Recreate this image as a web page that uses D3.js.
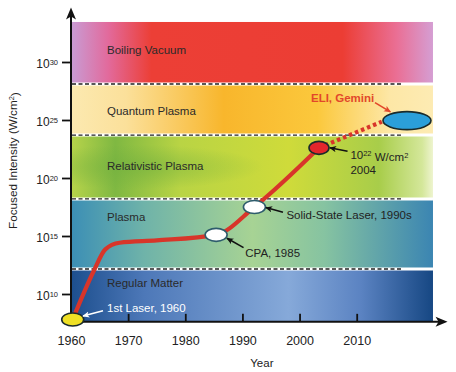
<!DOCTYPE html>
<html><head><meta charset="utf-8">
<script src="https://cdn.jsdelivr.net/npm/d3@7"></script>
<style>
html,body{margin:0;padding:0;background:#fff;}
svg{display:block;font-family:"Liberation Sans",Arial,sans-serif;}
</style></head>
<body>
<svg id="chart" width="456" height="372"></svg>
<script>
// ---- data ----
const xTicks = [1960, 1970, 1980, 1990, 2000, 2010];
const yTicks = [10, 15, 20, 25, 30];           // log10 of W/cm^2
const bandNames = ["Boiling Vacuum", "Quantum Plasma", "Relativistic Plasma", "Plasma", "Regular Matter"];
const bandLo = [28.1, 23.7, 18.2, 12.15, 7.6];
const bandHi = [33.45, 28.1, 23.7, 18.2, 12.15];
const bandLabelVals = [31.0, 25.8, 21.05, 16.65, 10.92];
const bandStops = [
  [["0%","#c99bd3"],["10%","#e26a9c"],["22%","#ec3f36"],["75%","#ec3d34"],["90%","#ea6f95"],["100%","#d59ed3"]],
  [["0%","#fce9b0"],["15%","#fbe09a"],["42%","#f8b62c"],["68%","#fbc83c"],["88%","#fde7a6"],["100%","#fdebb3"]],
  [["0%","#b6d34a"],["12%","#7fb842"],["30%","#b9d444"],["60%","#cfdb3a"],["85%","#a8cd4a"],["97%","#d4e79a"],["100%","#eef4cf"]],
  [["0%","#3c8fb5"],["20%","#6fb3a9"],["50%","#a7d394"],["70%","#86c3a1"],["100%","#3b85b2"]],
  [["0%","#1d4f8e"],["20%","#4d78b8"],["60%","#86a9d9"],["80%","#5b83c2"],["100%","#164783"]]
];
const bandEndYear = 2023.35;
const dashEndYear = 2017.9;
const curveYears = [1960.3, 1964, 1966, 1968.5, 1975, 1985.4, 1992.1, 2003.4];
const curveVals  = [7.8, 12.0, 13.85, 14.42, 14.62, 15.1, 17.5, 22.6];
const projYears = [2003.4, 2014.4];
const projVals  = [22.6, 24.85];
const markerNames = ["1st Laser, 1960", "CPA, 1985", "Solid-State Laser, 1990s", "10²² W/cm² 2004", "ELI, Gemini"];
const markerYears = [1960.3, 1985.4, 1992.1, 2003.4, 2018.8];
const markerVals  = [7.8, 15.1, 17.5, 22.6, 24.95];
const markerFill = ["#efe025", "#ffffff", "#ffffff", "#e3262c", "#2b9fd9"];

// ---- scales ----
const svg = d3.select("#chart");
const x = d3.scaleLinear().domain([1960, 2010]).range([71, 356.7]);
const y = d3.scaleLinear().domain([10, 30]).range([294, 62]);

const defs = svg.append("defs");
bandStops.forEach((stops, i) => {
  const g = defs.append("linearGradient").attr("id", "bg" + i).attr("x1", "0%").attr("x2", "100%");
  stops.forEach(s => g.append("stop").attr("offset", s[0]).attr("stop-color", s[1]));
});
const rg = defs.append("radialGradient").attr("id", "relGlow").attr("cx", "0.18").attr("cy", "0.5").attr("r", "0.35");
rg.append("stop").attr("offset", "0%").attr("stop-color", "#6fae3e").attr("stop-opacity", 0.55);
rg.append("stop").attr("offset", "100%").attr("stop-color", "#6fae3e").attr("stop-opacity", 0);

function arrowMarker(id, color) {
  defs.append("marker").attr("id", id).attr("viewBox", "0 0 10 10").attr("refX", 9).attr("refY", 5)
    .attr("markerWidth", 7).attr("markerHeight", 7).attr("orient", "auto")
    .attr("markerUnits", "userSpaceOnUse")
    .append("path").attr("d", "M0,0.5 L10,5 L0,9.5 L2.5,5 Z").attr("fill", color);
}
arrowMarker("arB", "#111");
arrowMarker("arW", "#fff");
arrowMarker("arR", "#e2472a");

// ---- bands ----
const bands = bandNames.map((n, i) => ({ name: n, lo: bandLo[i], hi: bandHi[i], lv: bandLabelVals[i], i }));
svg.selectAll("rect.band").data(bands).join("rect")
  .attr("class", "band")
  .attr("x", x(1960) + 1)
  .attr("width", x(bandEndYear) - x(1960) - 1)
  .attr("y", d => y(d.hi))
  .attr("height", d => y(d.lo) - y(d.hi))
  .attr("fill", d => `url(#bg${d.i})`);
svg.append("rect")
  .attr("x", x(1960) + 1).attr("width", x(bandEndYear) - x(1960) - 1)
  .attr("y", y(23.7)).attr("height", y(18.2) - y(23.7))
  .attr("fill", "url(#relGlow)");

const seps = bandLo.slice(0, 4);
svg.selectAll("line.sepw").data(seps).join("line")
  .attr("x1", x(1960) + 1).attr("x2", x(bandEndYear))
  .attr("y1", d => y(d)).attr("y2", d => y(d))
  .attr("stroke", "#fff").attr("stroke-width", 3);
svg.selectAll("line.sepd").data(seps).join("line")
  .attr("x1", x(1960) + 1).attr("x2", x(dashEndYear))
  .attr("y1", d => y(d)).attr("y2", d => y(d))
  .attr("stroke", "#222").attr("stroke-width", 1.4).attr("stroke-dasharray", "4,2.5");

svg.selectAll("text.bl").data(bands).join("text")
  .attr("x", x(1966.3))
  .attr("y", d => y(d.lv))
  .attr("dy", "0.35em")
  .attr("font-size", 11.5).attr("fill", "#2a2a2a")
  .text(d => d.name);

// ---- axes ----
const xAxis = d3.axisBottom(x).tickValues(xTicks).tickSize(8).tickSizeOuter(0).tickFormat(d3.format("d"));
const gx = svg.append("g").attr("transform", `translate(0,${y(7.6)})`).call(xAxis);
gx.select(".domain").remove();
gx.selectAll(".tick line").attr("y2", -8).attr("stroke", "#111").attr("stroke-width", 1.8);
gx.selectAll(".tick text").attr("y", 14).attr("dy", "0.71em").attr("font-size", 12.5).attr("fill", "#222")
  .attr("font-family", "Liberation Sans, Arial, sans-serif");
svg.append("line").attr("x1", x(1960)).attr("x2", x(2025.2)).attr("y1", y(7.6)).attr("y2", y(7.6))
  .attr("stroke", "#111").attr("stroke-width", 2);
svg.append("path")
  .attr("d", `M${x(2025.9)},${y(7.6)} l-12,-5 l3,5 l-3,5 z`).attr("fill", "#111");

const yAxis = d3.axisLeft(y).tickValues(yTicks).tickSize(9).tickSizeOuter(0).tickFormat("");
const gy = svg.append("g").attr("transform", `translate(${x(1960)},0)`).call(yAxis);
gy.select(".domain").remove();
gy.selectAll(".tick line").attr("stroke", "#111").attr("stroke-width", 1.8);
gy.selectAll(".tick").append("text")
  .attr("x", -13).attr("dy", "0.45em").attr("text-anchor", "end")
  .attr("font-size", 12).attr("fill", "#222")
  .each(function (d) {
    const t = d3.select(this);
    t.append("tspan").text("10");
    t.append("tspan").attr("dy", "-0.45em").attr("font-size", 7.5).text(String(d));
  });
svg.append("line").attr("x1", x(1960)).attr("x2", x(1960)).attr("y1", y(7.6)).attr("y2", y(34.2))
  .attr("stroke", "#111").attr("stroke-width", 2);
svg.append("path")
  .attr("d", `M${x(1960)},${y(34.7)} l-5,12 l5,-3 l5,3 z`).attr("fill", "#111");

svg.append("text").attr("x", x(1993.4)).attr("y", 363).attr("dy", "0.35em")
  .attr("text-anchor", "middle").attr("font-size", 11.5).attr("fill", "#222").text("Year");
const yt = svg.append("text").attr("transform", `translate(13,${y(21.5)}) rotate(-90)`)
  .attr("text-anchor", "middle").attr("dy", "0.35em").attr("font-size", 11.7).attr("fill", "#222");
yt.append("tspan").text("Focused Intensity (W/cm");
yt.append("tspan").attr("dy", "-0.4em").attr("font-size", 7.5).text("2");
yt.append("tspan").attr("dy", "0.4em").text(")");

// ---- curve ----
const pts = curveYears.map((yr, i) => [yr, curveVals[i]]);
const line = d3.line().x(d => x(d[0])).y(d => y(d[1])).curve(d3.curveMonotoneX);
svg.append("path").attr("d", line(pts)).attr("fill", "none")
  .attr("stroke", "#d8352a").attr("stroke-width", 4.2).attr("stroke-linejoin", "round");
const proj = projYears.map((yr, i) => [yr, projVals[i]]);
svg.append("path").attr("d", d3.line().x(d => x(d[0])).y(d => y(d[1]))(proj)).attr("fill", "none")
  .attr("stroke", "#d8352a").attr("stroke-width", 4.2).attr("stroke-dasharray", "3.5,3");

// ---- markers ----
const marks = markerNames.map((n, i) => ({ name: n, yr: markerYears[i], v: markerVals[i], fill: markerFill[i], i }));
svg.selectAll("ellipse.mk").data(marks).join("ellipse")
  .attr("cx", d => x(d.yr)).attr("cy", d => y(d.v))
  .attr("rx", d => d.i === 4 ? 24 : d.i === 3 ? 10 : 11)
  .attr("ry", d => d.i === 4 ? 9 : 6.5)
  .attr("fill", d => d.fill)
  .attr("stroke", d => d.i === 1 || d.i === 2 ? "#2e5c6c" : "#1b2b2b")
  .attr("stroke-width", 1.6);

// ---- annotations ----
svg.append("text").attr("x", x(1966.3)).attr("y", y(8.8)).attr("dy", "0.35em")
  .attr("font-size", 11.5).attr("fill", "#fff").text(markerNames[0]);
svg.append("line").attr("x1", x(1965.6)).attr("y1", y(8.55)).attr("x2", x(1962.1)).attr("y2", y(8.1))
  .attr("stroke", "#fff").attr("stroke-width", 1.6).attr("marker-end", "url(#arW)");

svg.append("text").attr("x", x(1990.5)).attr("y", y(13.55)).attr("dy", "0.35em")
  .attr("font-size", 11.5).attr("fill", "#222").text(markerNames[1]);
svg.append("line").attr("x1", x(1990.2)).attr("y1", y(14.0)).attr("x2", x(1987.3)).attr("y2", y(14.8))
  .attr("stroke", "#111").attr("stroke-width", 1.6).attr("marker-end", "url(#arB)");

svg.append("text").attr("x", x(1997.7)).attr("y", y(16.85)).attr("dy", "0.35em")
  .attr("font-size", 11.5).attr("fill", "#222").text(markerNames[2]);
svg.append("line").attr("x1", x(1997.1)).attr("y1", y(17.05)).attr("x2", x(1994.1)).attr("y2", y(17.45))
  .attr("stroke", "#111").attr("stroke-width", 1.6).attr("marker-end", "url(#arB)");

const t22 = svg.append("text").attr("x", x(2008.9)).attr("y", y(21.95)).attr("dy", "0.35em")
  .attr("font-size", 11.5).attr("fill", "#222");
t22.append("tspan").text("10");
t22.append("tspan").attr("dy", "-0.45em").attr("font-size", 7.5).text("22");
t22.append("tspan").attr("dy", "0.45em").text(" W/cm");
t22.append("tspan").attr("dy", "-0.45em").attr("font-size", 7.5).text("2");
svg.append("text").attr("x", x(2008.9)).attr("y", y(20.7)).attr("dy", "0.35em")
  .attr("font-size", 11.5).attr("fill", "#222").text("2004");
svg.append("line").attr("x1", x(2008.4)).attr("y1", y(22.3)).attr("x2", x(2005.3)).attr("y2", y(22.6))
  .attr("stroke", "#111").attr("stroke-width", 1.6).attr("marker-end", "url(#arB)");

svg.append("text").attr("x", x(2002.0)).attr("y", y(26.87)).attr("dy", "0.35em")
  .attr("font-size", 11.5).attr("font-weight", "bold").attr("fill", "#e2472a").text(markerNames[4]);
svg.append("line").attr("x1", x(2013.2)).attr("y1", y(26.5)).attr("x2", x(2015.9)).attr("y2", y(25.7))
  .attr("stroke", "#e2472a").attr("stroke-width", 1.6).attr("marker-end", "url(#arR)");
</script>
</body></html>
